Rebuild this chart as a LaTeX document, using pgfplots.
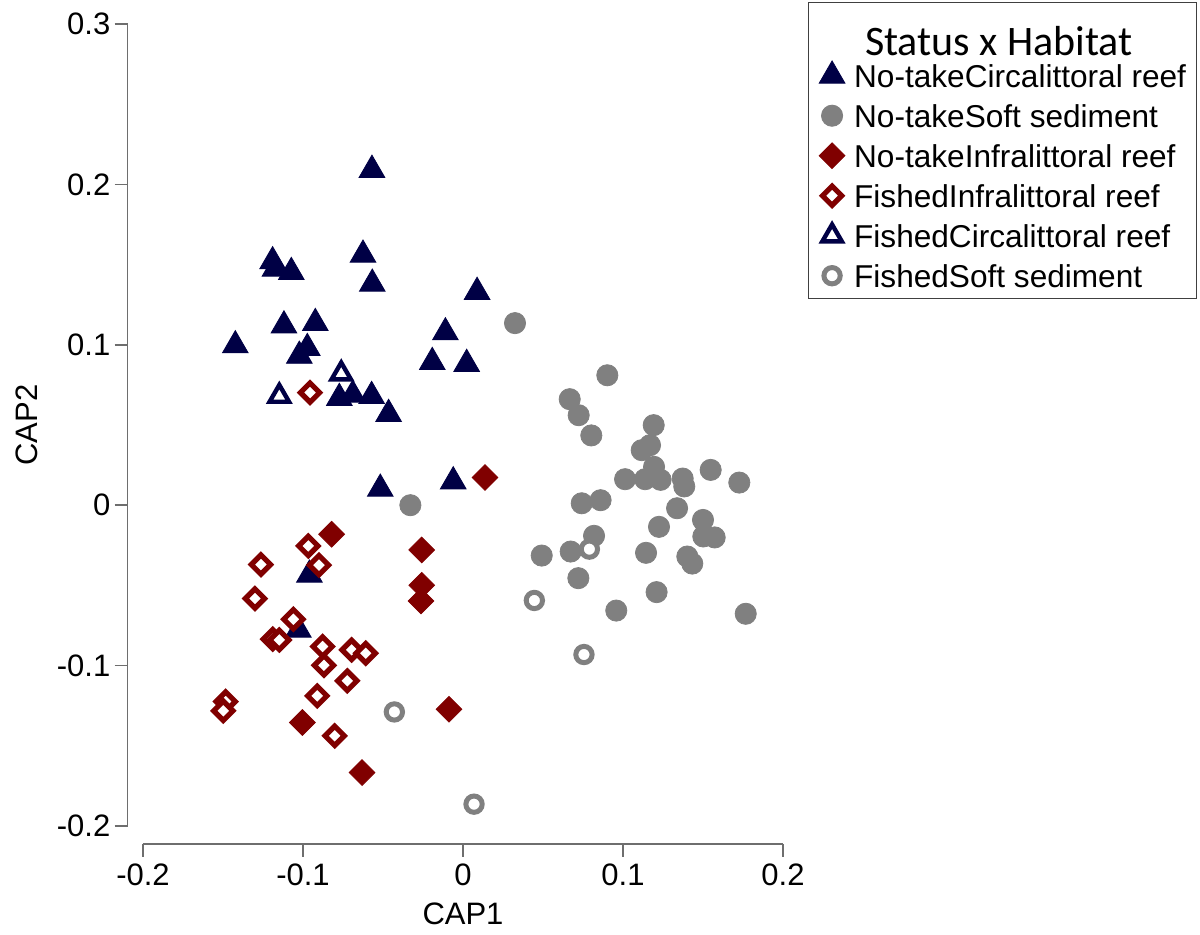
\documentclass[border=0pt]{standalone}
\usepackage{pgfplots}
\pgfplotsset{compat=1.18}
\usepackage{fontspec}
\setmainfont{Liberation Sans}
\newfontfamily\carlito{Carlito}
\definecolor{navy}{RGB}{0,0,69}
\definecolor{maroon}{RGB}{128,0,0}
\definecolor{grey}{RGB}{128,128,128}
\definecolor{axisgray}{RGB}{110,110,110}
\pgfplotsset{
  singlemark/.style={legend image code/.code={\draw[##1] plot coordinates {(0pt,0pt)};}},
}
\newcommand{\lstrut}{\rule[-4.34pt]{0pt}{20pt}}
\begin{document}
\begin{tikzpicture}
\useasboundingbox (-71.5pt,-54.5pt) rectangle (528.5pt,413pt);
\begin{axis}[
  at={(0pt,0pt)}, anchor=south west,
  scale only axis, width=320pt, height=401pt,
  xmin=-0.2, xmax=0.2, ymin=-0.2, ymax=0.3,
  axis lines*=left,
  axis x line shift=9pt, axis y line shift=7.65pt,
  axis line style={axisgray, line width=0.75pt},
  tick style={axisgray, line width=0.75pt},
  tick align=outside, major tick length=6.5pt,
  xtick={-0.2,-0.1,0,0.1,0.2}, xticklabels={-0.2,-0.1,0,0.1,0.2},
  ytick={-0.2,-0.1,0,0.1,0.2,0.3}, yticklabels={-0.2,-0.1,0,0.1,0.2,0.3},
  minor tick num=0,
  ticklabel style={font=\fontsize{15.5}{18}\selectfont},
  yticklabel style={inner xsep=2pt},
  xlabel={CAP1}, ylabel={CAP2},
  every axis x label/.style={at={(axis description cs:0.5,0)}, yshift=-44pt, anchor=center, font=\fontsize{15.5}{18}\selectfont},
  every axis y label/.style={at={(axis description cs:0,0.5)}, xshift=-58pt, rotate=90, anchor=center, font=\fontsize{15.5}{18}\selectfont},
  clip=false,
  legend cell align=left,
  legend style={at={(axis description cs:1.0391,1.0274)}, anchor=north west,
    draw=black!75, line width=0.7pt, font=\fontsize{15.8}{18}\selectfont,
    inner xsep=5.25pt, inner ysep=1.5pt, row sep=0pt,
    nodes={inner sep=0pt, text depth=},
    /tikz/every odd column/.append style={column sep=4.6pt}},
]
\addlegendimage{empty legend}
\addlegendentry{\raisebox{0pt}[25pt][0pt]{\hspace{5.5pt}\carlito\fontsize{21}{21}\selectfont Status x Habitat}}

\addplot[only marks, singlemark, color=navy, mark=triangle*, mark size=7.4pt,
  mark options={fill=navy, draw=navy, line width=0.4pt}] coordinates {
(-0.0569,0.209) (-0.119,0.152) (-0.1175,0.1474) (-0.1073,0.1453) (-0.0625,0.1561)
(-0.0567,0.138) (0.0088,0.1329) (-0.1119,0.112) (-0.0923,0.1135) (-0.1423,0.0996)
(-0.0973,0.0979) (-0.1023,0.0931) (-0.011,0.1077) (-0.0192,0.0892) (0.0023,0.088)
(-0.0773,0.0668) (-0.0689,0.0688) (-0.0571,0.068) (-0.0465,0.0568) (-0.0517,0.0102)
(-0.0061,0.0148) (-0.096,-0.0434) (-0.1029,-0.0777)
};
\addlegendentry{\lstrut No-takeCircalittoral reef}

\addplot[only marks, singlemark, color=grey, mark=*, mark size=5.3pt,
  mark options={fill=grey, draw=grey, line width=0.4pt}] coordinates {
(0.0325,0.1135) (0.0902,0.081) (0.0667,0.0661) (0.0723,0.0561) (0.0802,0.0435)
(0.1192,0.0499) (0.1169,0.0374) (0.1117,0.0343) (0.1194,0.0239) (0.1013,0.0162)
(0.1138,0.0162) (0.1235,0.0158) (0.1373,0.0166) (0.1383,0.0117) (0.1548,0.022)
(0.1727,0.0141) (0.0742,0.0012) (0.0860,0.0031) (0.1338,-0.0019) (0.15,-0.0092)
(0.1225,-0.0135) (0.0819,-0.0191) (0.1502,-0.0195) (0.1573,-0.0201) (-0.0329,0.0)
(0.0492,-0.0314) (0.0673,-0.0289) (0.0721,-0.0455) (0.0958,-0.0657) (0.1144,-0.0297)
(0.1210,-0.0542) (0.1402,-0.032) (0.1433,-0.0364) (0.1767,-0.0677)
};
\addlegendentry{\lstrut No-takeSoft sediment}

\addplot[only marks, singlemark, color=maroon, mark=square*, mark size=4.55pt,
  mark options={rotate=45, fill=maroon, draw=maroon, line width=0.4pt}] coordinates {
(0.01375,0.0173) (-0.0821,-0.0181) (-0.0258,-0.0279) (-0.0258,-0.0499)
(-0.02625,-0.0597) (-0.00875,-0.1272) (-0.1004,-0.1355) (-0.0631,-0.1667)
};
\addlegendentry{\lstrut No-takeInfralittoral reef}

\addplot[only marks, singlemark, color=maroon, mark=square*, mark size=3.4pt,
  mark options={rotate=45, fill=white, draw=maroon, line width=2.6pt}] coordinates {
(-0.0956,0.0702) (-0.0967,-0.0254) (-0.09,-0.0374) (-0.1263,-0.037) (-0.13,-0.0582)
(-0.1060,-0.0711) (-0.1189,-0.0835) (-0.1148,-0.084) (-0.0877,-0.0881)
(-0.0696,-0.0902) (-0.0608,-0.0923) (-0.0869,-0.0998) (-0.0723,-0.1095)
(-0.0911,-0.1189) (-0.1483,-0.1224) (-0.1498,-0.1282) (-0.0802,-0.1438)
};
\addlegendentry{\lstrut FishedInfralittoral reef}

\addplot[only marks, singlemark, color=navy, mark=triangle*, mark size=5.6pt,
  mark options={fill=white, draw=navy, line width=2.2pt}] coordinates {
(-0.0761,0.0819) (-0.1148,0.068)
};
\addlegendentry{\lstrut FishedCircalittoral reef}

\addplot[only marks, singlemark, color=grey, mark=*, mark size=4.08pt,
  mark options={fill=white, draw=grey, line width=2.5pt}] coordinates {
(0.0790,-0.0274) (0.0446,-0.0594) (0.0756,-0.0931) (-0.0429,-0.1289) (0.0069,-0.1864)
};
\addlegendentry{\lstrut FishedSoft sediment}
\end{axis}
\end{tikzpicture}
\end{document}
